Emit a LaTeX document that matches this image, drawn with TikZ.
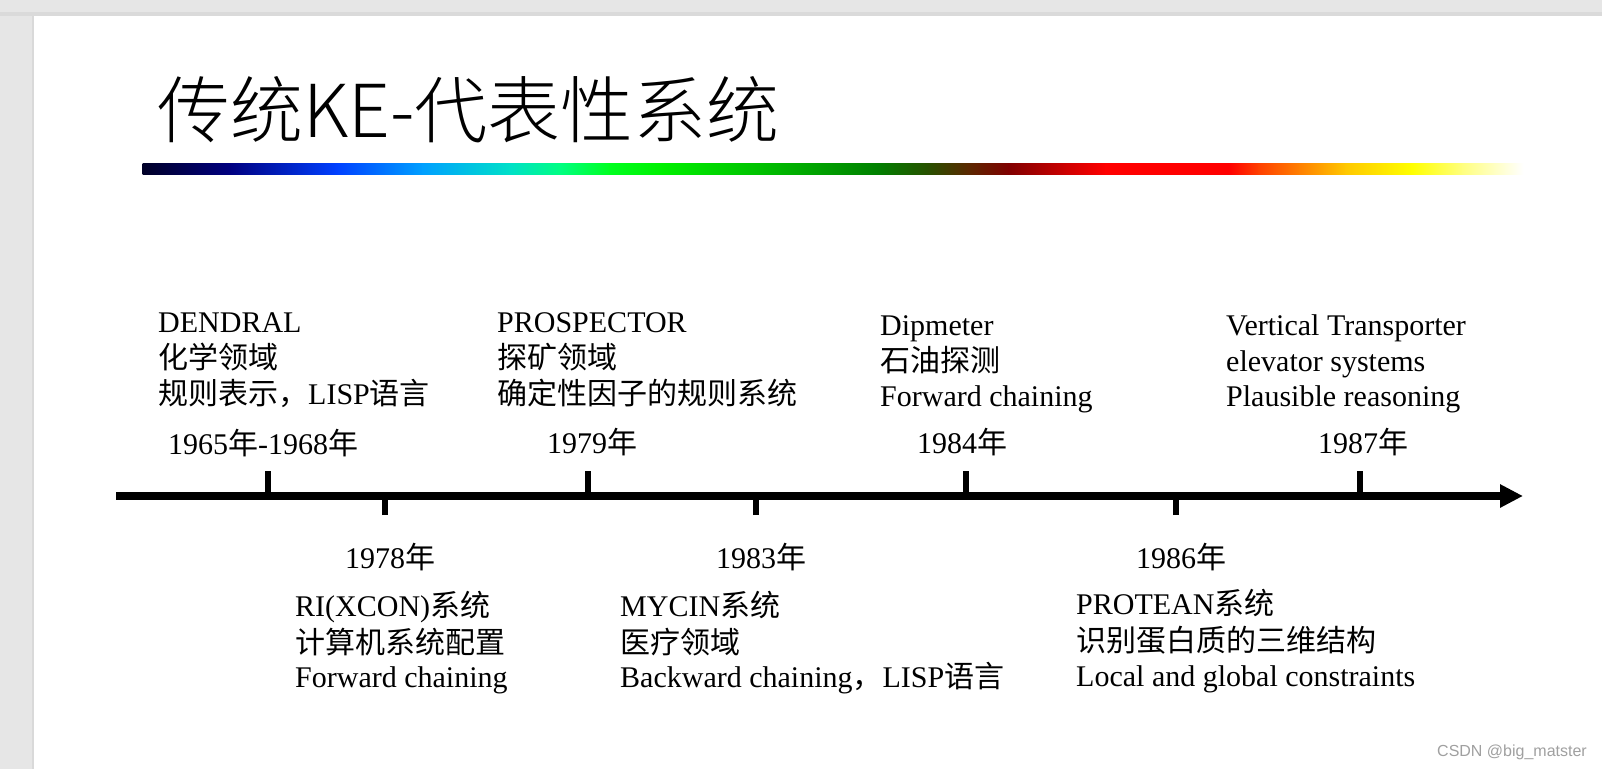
\documentclass[tikz,border=0pt]{standalone}
\usepackage{fontspec}
\setmainfont{Liberation Serif}
\newfontfamily\cjkfont{Noto Sans CJK SC}
\newfontfamily\titlefont{Noto Sans CJK SC}[UprightFont={* Light}]
\newfontfamily\wmfont{Liberation Sans}
\usetikzlibrary{arrows.meta}
\newcommand\zh[1]{{\cjkfont #1}}
\definecolor{bgGray}{RGB}{230,230,230}
\definecolor{topGray}{RGB}{218,218,218}
\definecolor{wmGray}{RGB}{160,160,160}
\definecolor{g0}{RGB}{0,0,40}
\definecolor{g1}{RGB}{0,0,128}
\definecolor{g2}{RGB}{0,64,255}
\definecolor{g3}{RGB}{0,160,255}
\definecolor{g4}{RGB}{0,224,200}
\definecolor{g5}{RGB}{0,255,128}
\definecolor{g6}{RGB}{0,255,32}
\definecolor{g7}{RGB}{0,240,0}
\definecolor{g8}{RGB}{0,190,0}
\definecolor{g9}{RGB}{0,128,0}
\definecolor{g10}{RGB}{40,80,0}
\definecolor{g11}{RGB}{90,40,0}
\definecolor{g12}{RGB}{128,0,0}
\definecolor{g13}{RGB}{204,0,0}
\definecolor{g14}{RGB}{255,0,0}
\definecolor{g15}{RGB}{255,0,0}
\definecolor{g16}{RGB}{255,64,0}
\definecolor{g17}{RGB}{255,128,0}
\definecolor{g18}{RGB}{255,200,0}
\definecolor{g19}{RGB}{255,255,0}
\definecolor{g20}{RGB}{255,255,128}
\definecolor{g21}{RGB}{255,255,255}
\begin{document}
\begin{tikzpicture}[x=1pt,y=-1pt,
  txt/.style={anchor=base west, inner sep=0pt, font=\fontsize{30}{36}\selectfont},
  tickmark/.style={line width=6pt},
  axisline/.style={line width=7.5pt, -{Triangle[length=23pt,width=22pt]}}]
\useasboundingbox (0,0) rectangle (1602,769);
% page background
\fill[bgGray] (0,0) rectangle (1602,769);
\fill[topGray] (0,12) rectangle (1602,16);
\fill[gray!30] (32,16) rectangle (34,769);
\fill[white] (34,16) rectangle (1602,769);
% title
\node[anchor=base west, inner sep=0pt, font=\titlefont\fontsize{73}{80}\selectfont] (title) at (157,137) {传统KE-代表性系统};
% gradient bar
\foreach \xa/\ca/\xb/\cb in {143/g0/230/g1, 230/g1/337/g2, 337/g2/423/g3, 423/g3/510/g4, 510/g4/561/g5, 561/g5/610/g6, 610/g6/663/g7, 663/g7/765/g8, 765/g8/877/g9, 877/g9/928/g10, 928/g10/968/g11, 968/g11/1009/g12, 1009/g12/1065/g13, 1065/g13/1106/g14, 1106/g14/1229/g15, 1229/g15/1259/g16, 1259/g16/1300/g17, 1300/g17/1346/g18, 1346/g18/1412/g19, 1412/g19/1463/g20, 1463/g20/1523/g21}
  \shade[left color=\ca, right color=\cb] (\xa-0.4,163) rectangle (\xb+0.4,174);
% timeline
\coordinate (axStart) at (116,496);
\coordinate (axEnd) at (1523,496);
\draw[axisline] (axStart) -- (axEnd);
\coordinate (u1) at (268,471); \coordinate (u1b) at (268,496);
\coordinate (u2) at (588,471); \coordinate (u2b) at (588,496);
\coordinate (u3) at (966,471); \coordinate (u3b) at (966,496);
\coordinate (u4) at (1360,471); \coordinate (u4b) at (1360,496);
\coordinate (d1) at (385,515); \coordinate (d1b) at (385,496);
\coordinate (d2) at (756,515); \coordinate (d2b) at (756,496);
\coordinate (d3) at (1176,515); \coordinate (d3b) at (1176,496);
\foreach \t in {u1,u2,u3,u4,d1,d2,d3} \draw[tickmark] (\t) -- (\t b);
% top labels
\node[txt] (dendA) at (158,332) {DENDRAL};
\node[txt] (dendB) at (158,368) {\zh{化学领域}};
\node[txt] (dendC) at (158,404) {\zh{规则表示，}LISP\zh{语言}};
\node[txt] (y1965) at (168,454) {1965\zh{年}-1968\zh{年}};
\node[txt] (prosA) at (497,332) {PROSPECTOR};
\node[txt] (prosB) at (497,368) {\zh{探矿领域}};
\node[txt] (prosC) at (497,404) {\zh{确定性因子的规则系统}};
\node[txt] (y1979) at (547,453) {1979\zh{年}};
\node[txt] (dipA) at (880,335) {Dipmeter};
\node[txt] (dipB) at (880,371) {\zh{石油探测}};
\node[txt] (dipC) at (880,406) {Forward chaining};
\node[txt] (y1984) at (917,453) {1984\zh{年}};
\node[txt] (vtA) at (1226,335) {Vertical Transporter};
\node[txt] (vtB) at (1226,371) {elevator systems};
\node[txt] (vtC) at (1226,406) {Plausible reasoning};
\node[txt] (y1987) at (1318,453) {1987\zh{年}};
% bottom labels
\node[txt] (y1978) at (345,568) {1978\zh{年}};
\node[txt] (riA) at (295,616) {RI(XCON)\zh{系统}};
\node[txt] (riB) at (295,653) {\zh{计算机系统配置}};
\node[txt] (riC) at (295,687) {Forward chaining};
\node[txt] (y1983) at (716,568) {1983\zh{年}};
\node[txt] (myA) at (620,616) {MYCIN\zh{系统}};
\node[txt] (myB) at (620,653) {\zh{医疗领域}};
\node[txt] (myC) at (620,687) {Backward chaining\zh{，}LISP\zh{语言}};
\node[txt] (y1986) at (1136,568) {1986\zh{年}};
\node[txt] (prA) at (1076,614) {PROTEAN\zh{系统}};
\node[txt] (prB) at (1076,651) {\zh{识别蛋白质的三维结构}};
\node[txt] (prC) at (1076,686) {Local and global constraints};
% watermark
\node[anchor=base east, inner sep=0pt, text=wmGray, font=\wmfont\fontsize{16}{18}\selectfont] (wm) at (1587,756) {CSDN @big\_matster};
\end{tikzpicture}
\end{document}
